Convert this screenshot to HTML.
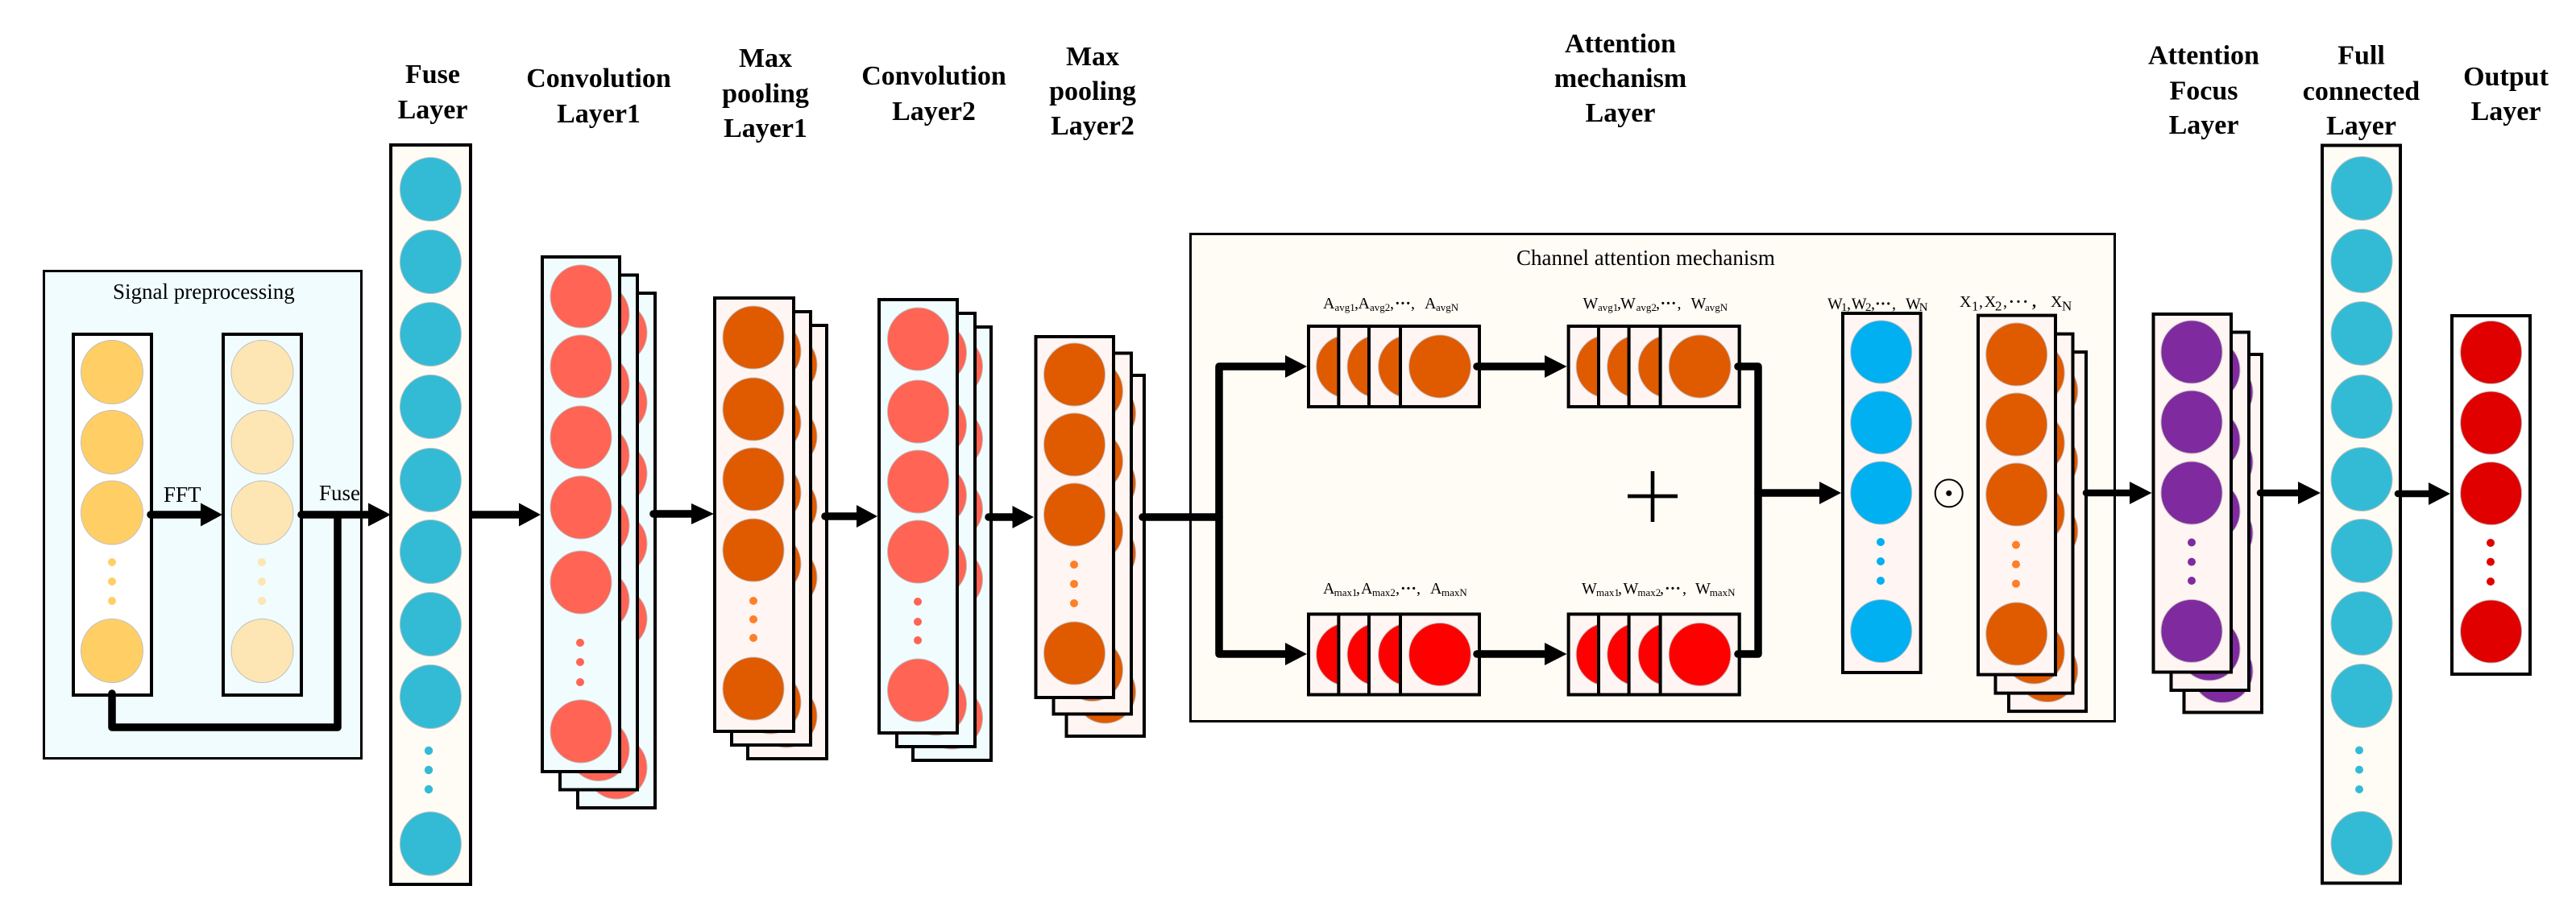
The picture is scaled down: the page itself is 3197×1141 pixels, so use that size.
<!DOCTYPE html>
<html><head><meta charset="utf-8"><style>
html,body{margin:0;padding:0;background:#fff}
svg{display:block}
text{font-family:"Liberation Serif",serif;fill:#000}
.t{font-size:34px;font-weight:bold;text-anchor:middle}
.r{font-size:27px}
.m{font-size:20px}
.s{font-size:13px}
.b{stroke:#000;stroke-width:4}
.c{stroke:#bfbfbf;stroke-width:1}
.a{stroke:#000;stroke-width:9.5;fill:none;stroke-linecap:round;stroke-linejoin:round}
</style></head><body>
<svg xmlns="http://www.w3.org/2000/svg" width="3197" height="1141" viewBox="0 0 3197 1141">
<rect width="3197" height="1141" fill="#fff"/>
<defs>
<g id="conv1"><rect class="b" x="673" y="319" width="96" height="639" fill="#F0FCFE"/>
<ellipse class="c" cx="721" cy="368" rx="38" ry="39"/><ellipse class="c" cx="721" cy="455" rx="38" ry="39"/><ellipse class="c" cx="721" cy="543" rx="38" ry="39"/><ellipse class="c" cx="721" cy="630" rx="38" ry="39"/><ellipse class="c" cx="721" cy="723" rx="38" ry="39"/><ellipse class="c" cx="721" cy="908" rx="38" ry="39"/>
<circle cx="720" cy="798" r="5"/><circle cx="720" cy="822" r="5"/><circle cx="720" cy="847" r="5"/></g>
<g id="mp1"><rect class="b" x="887" y="370" width="98" height="538" fill="#FFF5F3"/>
<ellipse class="c" cx="935" cy="419" rx="38" ry="39"/><ellipse class="c" cx="935" cy="508" rx="38" ry="39"/><ellipse class="c" cx="935" cy="595" rx="38" ry="39"/><ellipse class="c" cx="935" cy="683" rx="38" ry="39"/><ellipse class="c" cx="935" cy="855" rx="38" ry="39"/>
<g fill="#FF7F27"><circle cx="935" cy="746" r="5"/><circle cx="935" cy="769" r="5"/><circle cx="935" cy="792" r="5"/></g></g>
<g id="conv2"><rect class="b" x="1091" y="372" width="97" height="538" fill="#F0FCFE"/>
<ellipse class="c" cx="1139.500" cy="421" rx="38" ry="39"/><ellipse class="c" cx="1139.500" cy="511" rx="38" ry="39"/><ellipse class="c" cx="1139.500" cy="598" rx="38" ry="39"/><ellipse class="c" cx="1139.500" cy="685" rx="38" ry="39"/><ellipse class="c" cx="1139.500" cy="857" rx="38" ry="39"/>
<circle cx="1139" cy="747" r="5"/><circle cx="1139" cy="772" r="5"/><circle cx="1139" cy="795" r="5"/></g>
<g id="mp2"><rect class="b" x="1285.500" y="418" width="96.500" height="448" fill="#FFF5F3"/>
<ellipse class="c" cx="1333.500" cy="465" rx="38" ry="39"/><ellipse class="c" cx="1333.500" cy="552" rx="38" ry="39"/><ellipse class="c" cx="1333.500" cy="639" rx="38" ry="39"/><ellipse class="c" cx="1333.500" cy="811" rx="38" ry="39"/>
<g fill="#FF7F27"><circle cx="1333" cy="701" r="5"/><circle cx="1333" cy="725" r="5"/><circle cx="1333" cy="749" r="5"/></g></g>
<g id="row">
<rect class="b" x="1624" y="405" width="212" height="100" fill="#FFF5F3"/>
<ellipse class="c" cx="1672" cy="455" rx="38.400" ry="39"/>
<rect class="b" x="1661.400" y="405" width="174.600" height="100" fill="#FFF5F3"/>
<ellipse class="c" cx="1710.500" cy="455" rx="38.400" ry="39"/>
<rect class="b" x="1699" y="405" width="137" height="100" fill="#FFF5F3"/>
<ellipse class="c" cx="1749" cy="455" rx="38.400" ry="39"/>
<rect class="b" x="1738" y="405" width="98" height="100" fill="#FFF5F3"/>
<ellipse class="c" cx="1787" cy="455" rx="38.400" ry="39"/>
</g>
<g id="xs"><rect class="b" x="2455" y="391.600" width="96" height="446" fill="#FFF5F3"/>
<ellipse class="c" cx="2502.700" cy="440" rx="38" ry="39"/><ellipse class="c" cx="2502.700" cy="527" rx="38" ry="39"/><ellipse class="c" cx="2502.700" cy="614" rx="38" ry="39"/><ellipse class="c" cx="2502.700" cy="787" rx="38" ry="39"/>
<g fill="#FF7F27"><circle cx="2502" cy="676.500" r="5"/><circle cx="2502" cy="700.600" r="5"/><circle cx="2502" cy="724.700" r="5"/></g></g>
<g id="foc"><rect class="b" x="2672.500" y="390" width="96.500" height="444.500" fill="#FFF5F3"/>
<ellipse class="c" cx="2720" cy="437" rx="38" ry="39"/><ellipse class="c" cx="2720" cy="524" rx="38" ry="39"/><ellipse class="c" cx="2720" cy="612" rx="38" ry="39"/><ellipse class="c" cx="2720" cy="783.400" rx="38" ry="39"/>
<circle cx="2720" cy="673.500" r="5"/><circle cx="2720" cy="697.600" r="5"/><circle cx="2720" cy="721" r="5"/></g>
</defs>

<!-- Signal preprocessing -->
<rect x="54.500" y="336.500" width="394" height="605" fill="#F0FCFE" stroke="#000" stroke-width="3"/>
<text class="r" x="140" y="371">Signal preprocessing</text>
<rect class="b" x="91" y="415" width="97" height="448" fill="#fff"/>
<g fill="#FFCF66"><ellipse class="c" cx="139" cy="462" rx="38.500" ry="39.500"/><ellipse class="c" cx="139" cy="549" rx="38.500" ry="39.500"/><ellipse class="c" cx="139" cy="636.500" rx="38.500" ry="39.500"/><ellipse class="c" cx="139" cy="808" rx="38.500" ry="39.500"/>
<circle cx="139" cy="698" r="5"/><circle cx="139" cy="722" r="5"/><circle cx="139" cy="746" r="5"/></g>
<rect class="b" x="277" y="415" width="97" height="448" fill="#F0FCFE"/>
<g fill="#FDE6B3"><ellipse class="c" cx="325.500" cy="462" rx="38.500" ry="39.500"/><ellipse class="c" cx="325.500" cy="549" rx="38.500" ry="39.500"/><ellipse class="c" cx="325.500" cy="636.500" rx="38.500" ry="39.500"/><ellipse class="c" cx="325.500" cy="808" rx="38.500" ry="39.500"/>
<circle cx="325" cy="698" r="5"/><circle cx="325" cy="722" r="5"/><circle cx="325" cy="746" r="5"/></g>
<text class="r" x="203" y="623">FFT</text>
<text class="r" x="396" y="621">Fuse</text>
<path class="a" d="M419 639V903H139V861"/>
<path class="a" d="M187 639H250"/><polygon points="249,624.500 276,639 249,653.500"/>
<path class="a" d="M374 639H458"/><polygon points="457,624.500 485,639 457,653.500"/>

<!-- Fuse layer -->
<rect class="b" x="485" y="180" width="99" height="918" fill="#FFFCF5"/>
<g fill="#33BBD6"><ellipse class="c" cx="534.400" cy="235" rx="38" ry="39.500"/><ellipse class="c" cx="534.400" cy="325" rx="38" ry="39.500"/><ellipse class="c" cx="534.400" cy="415" rx="38" ry="39.500"/><ellipse class="c" cx="534.400" cy="505" rx="38" ry="39.500"/><ellipse class="c" cx="534.400" cy="596" rx="38" ry="39.500"/><ellipse class="c" cx="534.400" cy="685" rx="38" ry="39.500"/><ellipse class="c" cx="534.400" cy="775" rx="38" ry="39.500"/><ellipse class="c" cx="534.400" cy="865" rx="38" ry="39.500"/><ellipse class="c" cx="534.400" cy="1047.500" rx="38" ry="39.500"/>
<circle cx="532" cy="932" r="5.200"/><circle cx="532" cy="956" r="5.200"/><circle cx="532" cy="980" r="5.200"/></g>
<path class="a" style="stroke-linecap:butt" d="M586 639H645"/><polygon points="644,624.500 671,639 644,653.500"/>

<!-- Stacks -->
<g fill="#FF6455"><use href="#conv1" x="44" y="45"/><use href="#conv1" x="22" y="22.500"/><use href="#conv1"/></g>
<g fill="#E05A00"><use href="#mp1" x="41" y="34"/><use href="#mp1" x="21" y="17"/><use href="#mp1"/></g>
<g fill="#FF6455"><use href="#conv2" x="42" y="34"/><use href="#conv2" x="22" y="17"/><use href="#conv2"/></g>
<g fill="#E05A00"><use href="#mp2" x="38" y="48"/><use href="#mp2" x="22" y="20.500"/><use href="#mp2"/></g>

<path class="a" d="M811 638H859"/><polygon points="858,625 886,638 858,651"/>
<path class="a" d="M1024 641H1064"/><polygon points="1063,627 1089,641 1063,655"/>
<path class="a" d="M1227 642H1257"/><polygon points="1256.500,628 1283,642 1256.500,656"/>

<!-- Attention box -->
<rect x="1477.500" y="290.500" width="1147" height="605" fill="#FFFCF5" stroke="#000" stroke-width="3"/>
<text class="r" x="1882" y="329">Channel attention mechanism</text>
<path class="a" d="M1418 642H1513"/>
<path class="a" d="M1596 455H1513V812H1596"/>
<polygon points="1595,441 1622,455 1595,469"/><polygon points="1595,798 1622,812 1595,826"/>

<use href="#row" fill="#E05A00"/>
<use href="#row" x="322.600" fill="#E05A00"/>
<use href="#row" y="357.500" fill="#FF0000"/>
<use href="#row" x="322.600" y="357.500" fill="#FF0000"/>

<path class="a" d="M1833 455H1918"/><polygon points="1917,441 1944.500,455 1917,469"/>
<path class="a" d="M1833 812H1918"/><polygon points="1917,798 1944.500,812 1917,826"/>
<path class="a" d="M2157 455H2182V812H2157"/>
<path class="a" d="M2182 612H2259"/><polygon points="2258,598 2285,612 2258,626"/>

<!-- plus -->
<rect x="2020" y="613.700" width="62" height="4.700"/><rect x="2048.700" y="585" width="4.600" height="63"/>

<!-- labels top row -->
<text class="m" x="1642" y="383">A</text><text class="s" x="1656.500" y="386">avg1</text><text class="m" x="1681" y="383">,</text>
<text class="m" x="1685.500" y="383">A</text><text class="s" x="1700" y="386">avg2</text><text class="m" x="1725" y="383">,</text>
<text class="m" x="1731" y="383" font-weight="bold">···</text><text class="m" x="1751" y="383">,</text>
<text class="m" x="1768" y="383">A</text><text class="s" x="1782" y="386">avgN</text>

<text class="m" x="1964.500" y="383">W</text><text class="s" x="1983" y="386">avg1</text><text class="m" x="2007" y="383">,</text>
<text class="m" x="2011" y="383">W</text><text class="s" x="2030.600" y="386">avg2</text><text class="m" x="2055" y="383">,</text>
<text class="m" x="2060.500" y="383" font-weight="bold">···</text><text class="m" x="2081.500" y="383">,</text>
<text class="m" x="2098.500" y="383">W</text><text class="s" x="2116" y="386">avgN</text>

<text class="m" x="1642" y="737">A</text><text class="s" x="1655.600" y="740">max1</text><text class="m" x="1683" y="737">,</text>
<text class="m" x="1689" y="737">A</text><text class="s" x="1703" y="740">max2</text><text class="m" x="1732" y="737">,</text>
<text class="m" x="1738" y="737" font-weight="bold">···</text><text class="m" x="1758" y="737">,</text>
<text class="m" x="1775" y="737">A</text><text class="s" x="1789" y="740">maxN</text>

<text class="m" x="1963" y="737">W</text><text class="s" x="1981" y="740">max1</text><text class="m" x="2008" y="737">,</text>
<text class="m" x="2014.500" y="737">W</text><text class="s" x="2032.400" y="740">max2</text><text class="m" x="2060" y="737">,</text>
<text class="m" x="2066" y="737" font-weight="bold">···</text><text class="m" x="2088" y="737">,</text>
<text class="m" x="2104" y="737">W</text><text class="s" x="2121.700" y="740">maxN</text>

<!-- W column -->
<rect class="b" x="2287" y="389" width="96.700" height="446" fill="#FFF5F3"/>
<g fill="#00B0F0"><ellipse class="c" cx="2334.700" cy="437" rx="38" ry="39"/><ellipse class="c" cx="2334.700" cy="524.700" rx="38" ry="39"/><ellipse class="c" cx="2334.700" cy="612" rx="38" ry="39"/><ellipse class="c" cx="2334.700" cy="783.500" rx="38" ry="39"/>
<circle cx="2334" cy="673" r="5"/><circle cx="2334" cy="697" r="5"/><circle cx="2334" cy="721" r="5"/></g>
<text class="m" x="2268" y="383.500">W</text><text class="s" style="font-size:15px" x="2285" y="386">1</text><text class="m" x="2292" y="383.500">,</text>
<text class="m" x="2297.700" y="383.500">W</text><text class="s" style="font-size:15px" x="2315" y="386">2</text><text class="m" x="2322" y="383.500">,</text>
<text class="m" x="2327" y="383.500" font-weight="bold">···</text><text class="m" x="2348" y="383.500">,</text>
<text class="m" x="2365" y="383.500">W</text><text class="s" style="font-size:15px" x="2381.700" y="386">N</text>

<!-- odot -->
<circle cx="2418.700" cy="612.400" r="17" fill="none" stroke="#000" stroke-width="2"/>
<circle cx="2418.700" cy="612.400" r="3.500"/>

<!-- X stack -->
<g fill="#E05A00"><use href="#xs" x="38" y="45.500"/><use href="#xs" x="21.500" y="23"/><use href="#xs"/></g>
<text class="m" x="2432" y="381">X</text><text class="s" style="font-size:17px" x="2447" y="385.500">1</text><text class="m" x="2456" y="381">,</text>
<text class="m" x="2462.700" y="381">X</text><text class="s" style="font-size:17px" x="2476" y="385.500">2</text><text class="m" x="2486" y="381">,</text>
<text class="m" x="2493" y="381" font-weight="bold" style="letter-spacing:2px">···</text><text class="m" x="2522" y="381" font-weight="bold">,</text>
<text class="m" x="2545" y="381">X</text><text class="s" style="font-size:17px" x="2559" y="385.500">N</text>

<!-- Focus -->
<g fill="#7F2B9F"><use href="#foc" x="38" y="50"/><use href="#foc" x="22" y="22.500"/><use href="#foc"/></g>
<path class="a" style="stroke-width:8.500" d="M2589 612H2644"/><polygon points="2643,598 2670.500,612 2643,626"/>

<!-- FC -->
<rect class="b" x="2882" y="180.500" width="97" height="916" fill="#FFFCF5"/>
<g fill="#33BBD6"><ellipse class="c" cx="2931" cy="234" rx="38" ry="39.500"/><ellipse class="c" cx="2931" cy="324" rx="38" ry="39.500"/><ellipse class="c" cx="2931" cy="414" rx="38" ry="39.500"/><ellipse class="c" cx="2931" cy="505" rx="38" ry="39.500"/><ellipse class="c" cx="2931" cy="595" rx="38" ry="39.500"/><ellipse class="c" cx="2931" cy="684" rx="38" ry="39.500"/><ellipse class="c" cx="2931" cy="774" rx="38" ry="39.500"/><ellipse class="c" cx="2931" cy="864" rx="38" ry="39.500"/><ellipse class="c" cx="2931" cy="1047" rx="38" ry="39.500"/>
<circle cx="2928" cy="931.500" r="5"/><circle cx="2928" cy="955.600" r="5"/><circle cx="2928" cy="980" r="5"/></g>
<path class="a" style="stroke-width:8.500" d="M2805 612H2853"/><polygon points="2852,598 2880,612 2852,626"/>

<!-- Output -->
<rect class="b" x="3043" y="392" width="97" height="445" fill="#fff"/>
<g fill="#E00000"><ellipse class="c" cx="3091.600" cy="437.500" rx="38" ry="39"/><ellipse class="c" cx="3091.600" cy="525" rx="38" ry="39"/><ellipse class="c" cx="3091.600" cy="612.600" rx="38" ry="39"/><ellipse class="c" cx="3091.600" cy="784" rx="38" ry="39"/>
<circle cx="3091" cy="674" r="5"/><circle cx="3091" cy="697.600" r="5"/><circle cx="3091" cy="722" r="5"/></g>
<path class="a" style="stroke-width:8.500" d="M2976 613H3015"/><polygon points="3014,599 3041,613 3014,627"/>

<!-- Titles -->
<text class="t" x="537" y="103">Fuse</text><text class="t" x="537" y="147">Layer</text>
<text class="t" x="743" y="108">Convolution</text><text class="t" x="743" y="152">Layer1</text>
<text class="t" x="950" y="83">Max</text><text class="t" x="950" y="127">pooling</text><text class="t" x="950" y="170">Layer1</text>
<text class="t" x="1159" y="105">Convolution</text><text class="t" x="1159" y="149">Layer2</text>
<text class="t" x="1356" y="81">Max</text><text class="t" x="1356" y="124">pooling</text><text class="t" x="1356" y="167">Layer2</text>
<text class="t" x="2011" y="65">Attention</text><text class="t" x="2011" y="108">mechanism</text><text class="t" x="2011" y="151">Layer</text>
<text class="t" x="2735" y="79.600">Attention</text><text class="t" x="2735" y="123.500">Focus</text><text class="t" x="2735" y="166">Layer</text>
<text class="t" x="2930.500" y="79.600">Full</text><text class="t" x="2930.500" y="124">connected</text><text class="t" x="2930.500" y="167">Layer</text>
<text class="t" x="3110" y="106">Output</text><text class="t" x="3110" y="149">Layer</text>
</svg>
</body></html>
